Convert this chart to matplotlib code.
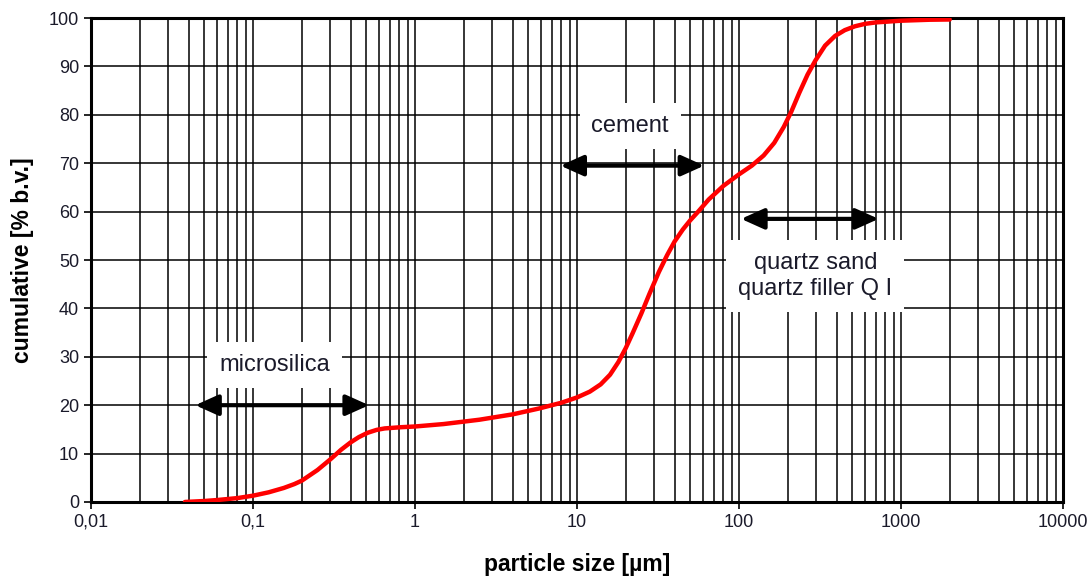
import numpy as np
import matplotlib.pyplot as plt
from matplotlib.ticker import FixedLocator, LogLocator, NullFormatter

plt.rcParams["font.family"] = ["Liberation Sans", "DejaVu Sans"]

# cumulative grading curve
size_um = [0.038, 0.05, 0.06, 0.08, 0.1, 0.125, 0.155, 0.18, 0.2, 0.25, 0.3,
           0.35, 0.4, 0.45, 0.51, 0.58, 0.65, 0.82, 1.0, 1.5, 2.5, 4.0, 5.8,
           8.0, 10, 12, 14, 16, 18, 20, 22, 25, 28, 32, 36, 40, 45, 50, 56,
           65, 80, 100, 120, 142, 165, 189, 210, 236, 265, 296, 340, 392,
           450, 520, 600, 700, 1000, 1500, 2000]
cum_pct = [0.0, 0.2, 0.4, 0.8, 1.3, 2.0, 2.9, 3.7, 4.4, 6.6, 8.8,
           10.8, 12.3, 13.4, 14.3, 14.9, 15.2, 15.45, 15.6, 16.1, 17.0, 18.1, 19.3,
           20.5, 21.6, 22.8, 24.3, 26.3, 28.9, 31.8, 34.8, 39.0, 43.0, 47.5, 51.0, 53.8, 56.3, 58.2, 60.0,
           62.5, 65.3, 67.7, 69.5, 71.6, 74.2, 77.5, 80.6, 84.6, 88.3, 91.2, 94.3, 96.3,
           97.5, 98.3, 98.8, 99.1, 99.45, 99.65, 99.7]

# component ranges (arrows) and their labels
ranges = [(0.044, 0.52, 20.0), (7.9, 61.0, 69.5), (103, 728, 58.5)]
labels = ["microsilica", "cement", "quartz sand\nquartz filler Q I"]
label_pos = [(0.136, 28.3), (21.3, 77.7), (296, 46.7)]

xticks = [0.01, 0.1, 1, 10, 100, 1000, 10000]
xticklabels = ["0,01", "0,1", "1", "10", "100", "1000", "10000"]
yticks = list(range(0, 101, 10))

fig = plt.figure(figsize=(10.9, 5.82), dpi=100)
ax = fig.add_axes([0.0835, 0.1375, 0.8917, 0.8315])

ax.set_xscale("log")
ax.set_xlim(0.01, 10000)
ax.set_ylim(0, 100)

# grid: every log subdivision + every 10 %
ax.xaxis.set_major_locator(FixedLocator(xticks))
ax.xaxis.set_minor_locator(LogLocator(base=10, subs=np.arange(2, 10), numticks=20))
ax.xaxis.set_minor_formatter(NullFormatter())
ax.set_xticklabels(xticklabels)
ax.set_yticks(yticks)
ax.grid(which="both", axis="x", color="black", lw=1.1, zorder=1)
ax.grid(which="major", axis="y", color="black", lw=1.1, zorder=1)
ax.tick_params(which="minor", length=0)
ax.tick_params(which="major", length=5, width=1.2, labelsize=13,
               colors="black", labelcolor="#1a1a2a")
for s in ax.spines.values():
    s.set_linewidth(2.2)
ax.set_axisbelow(True)

ax.plot(size_um, cum_pct, color="red", lw=3.2, zorder=4,
        solid_capstyle="round", solid_joinstyle="round")

for (x0, x1, yy) in ranges:
    ax.annotate("", xy=(x1, yy), xytext=(x0, yy),
                arrowprops=dict(arrowstyle="<|-|>,head_length=1.0,head_width=0.45",
                                color="black", lw=3.0, shrinkA=0, shrinkB=0,
                                mutation_scale=14), zorder=5)

for lab, (lx, ly) in zip(labels, label_pos):
    ax.text(lx, ly, lab, ha="center", va="center", fontsize=17, color="#1a1a2a",
            linespacing=1.25, zorder=3,
            bbox=dict(boxstyle="square,pad=0.5", fc="white", ec="none"))

ax.set_xlabel("particle size [µm]", fontsize=16.5, fontweight="bold", labelpad=16)
ax.set_ylabel("cumulative [% b.v.]", fontsize=16.5, fontweight="bold", labelpad=11)

fig.savefig("out.png", dpi=100)
